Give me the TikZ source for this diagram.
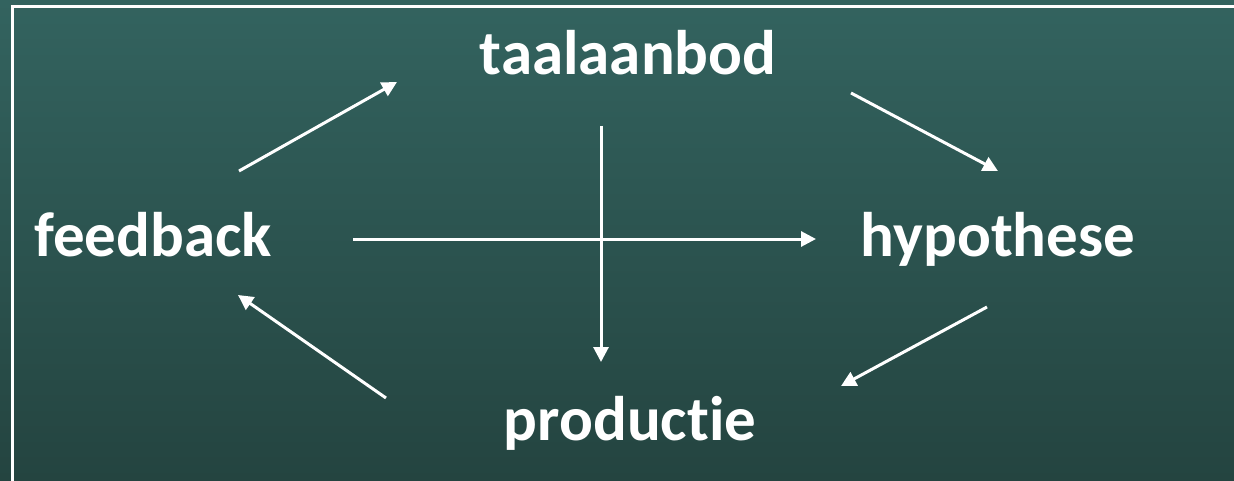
\documentclass[tikz,border=0pt]{standalone}
\usepackage{fontspec}
\setmainfont[RawFeature=-liga]{Carlito}
\usetikzlibrary{arrows.meta}
\definecolor{bgtop}{HTML}{33635F}
\definecolor{bgbot}{HTML}{244440}
\begin{document}
\begin{tikzpicture}[x=1pt,y=1pt,
  lbl/.style={text=white,font=\fontsize{63}{70}\selectfont\bfseries,anchor=base,inner sep=0pt},
  arr/.style={draw=white,line width=3pt,-{Triangle[length=15pt,width=15pt]}}]
\useasboundingbox (0,0) rectangle (1234,480);
\shade[top color=bgtop,bottom color=bgbot] (0,0) rectangle (1234,480);
\draw[white,line width=2.5pt] (12.5,-5) -- (12.5,473.5) -- (1240,473.5);
% labels (y = 480 - pixel y)
\node[lbl] (taal) at (628,405) {taalaanbod};
\node[lbl] (feed) at (153,224) {feedback};
\node[lbl] (hyp) at (998,224) {hypothese};
\node[lbl] (prod) at (630,40) {productie};
% arrow endpoints
\coordinate (a1s) at (239,309); \coordinate (a1e) at (397,398);
\coordinate (a2s) at (851,387); \coordinate (a2e) at (998,309);
\coordinate (a3s) at (987,173); \coordinate (a3e) at (841,94);
\coordinate (a4s) at (386,82);  \coordinate (a4e) at (238,185);
\coordinate (hs) at (353,241);  \coordinate (he) at (816,241);
\coordinate (vs) at (601,354);  \coordinate (ve) at (601,118);
\draw[arr] (a1s) -- (a1e);
\draw[arr] (a2s) -- (a2e);
\draw[arr] (a3s) -- (a3e);
\draw[arr] (a4s) -- (a4e);
\draw[arr] (hs) -- (he);
\draw[arr] (vs) -- (ve);
\end{tikzpicture}
\end{document}
